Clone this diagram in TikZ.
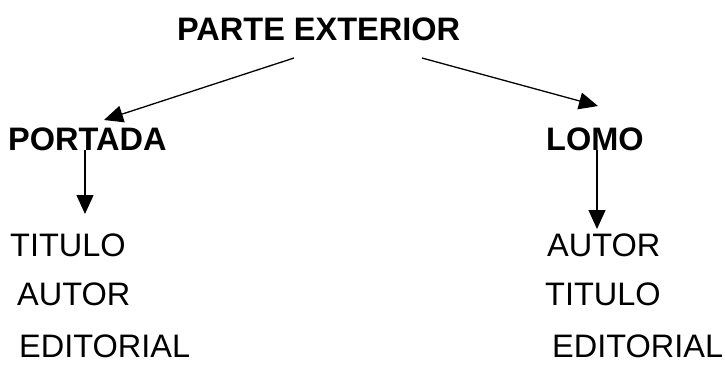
\documentclass[tikz,border=0pt]{standalone}
\usepackage{fontspec}
\setmainfont{Liberation Sans}
\usetikzlibrary{arrows.meta}
\begin{document}
\begin{tikzpicture}[x=1pt,y=-1pt,
  lbl/.style={anchor=base west,inner sep=0pt,font=\fontsize{32.5}{36}\selectfont},
  hd/.style={lbl,font=\fontsize{32.5}{36}\selectfont\bfseries},
  arr/.style={line width=1.3pt,-{Triangle[length=19pt,width=17pt]}}]
\useasboundingbox (0,0) rectangle (725,372);
\node[hd] (parte) at (177,40) {PARTE EXTERIOR};
\node[hd] (portada) at (8,150) {PORTADA};
\node[hd] (lomo) at (546,150) {LOMO};
\node[lbl] (titL) at (10,256) {TITULO};
\node[lbl] (autL) at (17,305) {AUTOR};
\node[lbl] (ediL) at (19,357) {EDITORIAL};
\node[lbl] (autR) at (547,256) {AUTOR};
\node[lbl] (titR) at (545,305) {TITULO};
\node[lbl] (ediR) at (552,357) {EDITORIAL};
\coordinate (a1s) at (294,58);
\coordinate (a1e) at (104,120);
\coordinate (a2s) at (422,58);
\coordinate (a2e) at (598,106);
\coordinate (a3s) at (85,150);
\coordinate (a3e) at (85,214);
\coordinate (a4s) at (597,150);
\coordinate (a4e) at (597,229);
\draw[arr] (a1s) -- (a1e);
\draw[arr] (a2s) -- (a2e);
\draw[arr] (a3s) -- (a3e);
\draw[arr] (a4s) -- (a4e);
\end{tikzpicture}
\end{document}
